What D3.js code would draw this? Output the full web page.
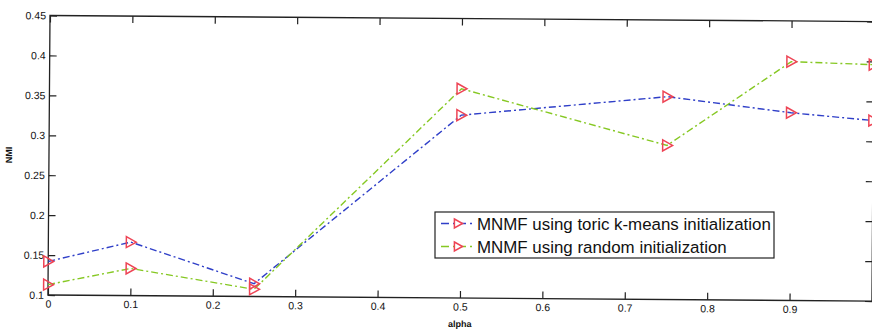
<!DOCTYPE html>
<html><head><meta charset="utf-8">
<script src="https://cdn.jsdelivr.net/npm/d3@7"></script>
<style>body{margin:0;background:#fff}svg{display:block}text{font-family:"Liberation Sans",Arial,sans-serif;fill:#111}</style>
</head><body><svg id="c" width="872" height="329"></svg>
<script>
const alpha = [0, 0.1, 0.25, 0.5, 0.75, 0.9, 1.0];
const toricNMI = [0.142, 0.167, 0.116, 0.329, 0.354, 0.335, 0.326];
const randomNMI = [0.113, 0.134, 0.109, 0.362, 0.293, 0.399, 0.396];
const seriesNames = ["MNMF using toric k-means initialization", "MNMF using random initialization"];
const xTicks = [0, 0.1, 0.2, 0.3, 0.4, 0.5, 0.6, 0.7, 0.8, 0.9];
const yTicks = [0.1, 0.15, 0.2, 0.25, 0.3, 0.35, 0.4, 0.45];

const colors = ["#2f3fc8", "#86c823"];
const markerColor = "#ee4455";
const L = 50, R = 874, T = 15.5, B = 295;
const svg = d3.select("#c");
const g = svg.append("g").attr("transform", `rotate(0.42 ${L} ${T})`);
const x = d3.scaleLinear().domain([0, 1]).range([L, R]);
const y = d3.scaleLinear().domain([0.1, 0.45]).range([B, T]);

// frame
g.append("rect").attr("x", L).attr("y", T).attr("width", R - L).attr("height", B - T)
  .attr("fill", "none").attr("stroke", "#222").attr("stroke-width", 1.3);

// axes
const xa = g.append("g").attr("transform", `translate(0,${B})`)
  .call(d3.axisBottom(x).tickValues(xTicks).tickSize(-7).tickPadding(5).tickFormat(d => String(d)));
const xt = g.append("g").attr("transform", `translate(0,${T})`)
  .call(d3.axisTop(x).tickValues(xTicks).tickSize(-7).tickFormat(""));
const ya = g.append("g").attr("transform", `translate(${L},0)`)
  .call(d3.axisLeft(y).tickValues(yTicks).tickSize(-7).tickPadding(4).tickFormat(d => String(+d.toFixed(2))));
const yr = g.append("g").attr("transform", `translate(${R},0)`)
  .call(d3.axisRight(y).tickValues(yTicks).tickSize(-7).tickFormat(""));
[xa, xt, ya, yr].forEach(a => {
  a.select(".domain").remove();
  a.selectAll(".tick line").attr("stroke", "#222").attr("stroke-width", 1.2);
  a.selectAll("text").attr("font-size", 10.5).style("fill", "#111");
});

// labels
g.append("text").attr("x", x(0.5)).attr("y", 324).attr("text-anchor", "middle")
  .attr("font-size", 9).attr("font-weight", "bold").text("alpha");
g.append("text").attr("transform", `translate(13,${(T + B) / 2}) rotate(-90)`).attr("text-anchor", "middle")
  .attr("font-size", 9).attr("font-weight", "bold").text("NMI");

// triangle marker path (right-pointing)
const tri = (cx, cy, s = 5.5) => `M${cx - s * 0.8},${cy - s}L${cx + s},${cy}L${cx - s * 0.8},${cy + s}Z`;

const series = [toricNMI, randomNMI];
const line = d3.line().x((d, i) => x(alpha[i])).y(d => y(d));
const plot = g.append("g");
series.forEach((vals, k) => {
  plot.append("path").datum(vals).attr("d", line).attr("fill", "none")
    .attr("stroke", colors[k]).attr("stroke-width", 1.4).attr("stroke-dasharray", "7,3,2,3");
});
series.forEach(vals => {
  plot.selectAll(null).data(vals).enter().append("path")
    .attr("d", (d, i) => tri(x(alpha[i]), y(d)))
    .attr("fill", "none").attr("stroke", markerColor).attr("stroke-width", 1.5);
});

// legend (drawn unrotated)
const lg = svg.append("g");
lg.append("rect").attr("x", 435).attr("y", 212).attr("width", 339).attr("height", 46)
  .attr("fill", "#fff").attr("stroke", "#222").attr("stroke-width", 1.2);
seriesNames.forEach((name, k) => {
  const cy = 223.5 + k * 23;
  lg.append("line").attr("x1", 441).attr("x2", 475).attr("y1", cy).attr("y2", cy)
    .attr("stroke", colors[k]).attr("stroke-width", 1.4).attr("stroke-dasharray", "8,4,2,3");
  lg.append("path").attr("d", tri(458, cy, 4.5)).attr("fill", "#fff").attr("stroke", markerColor).attr("stroke-width", 1.5);
  lg.append("text").attr("x", 477).attr("y", cy + 6.2).attr("font-size", 16.9).text(name);
});
</script></body></html>
